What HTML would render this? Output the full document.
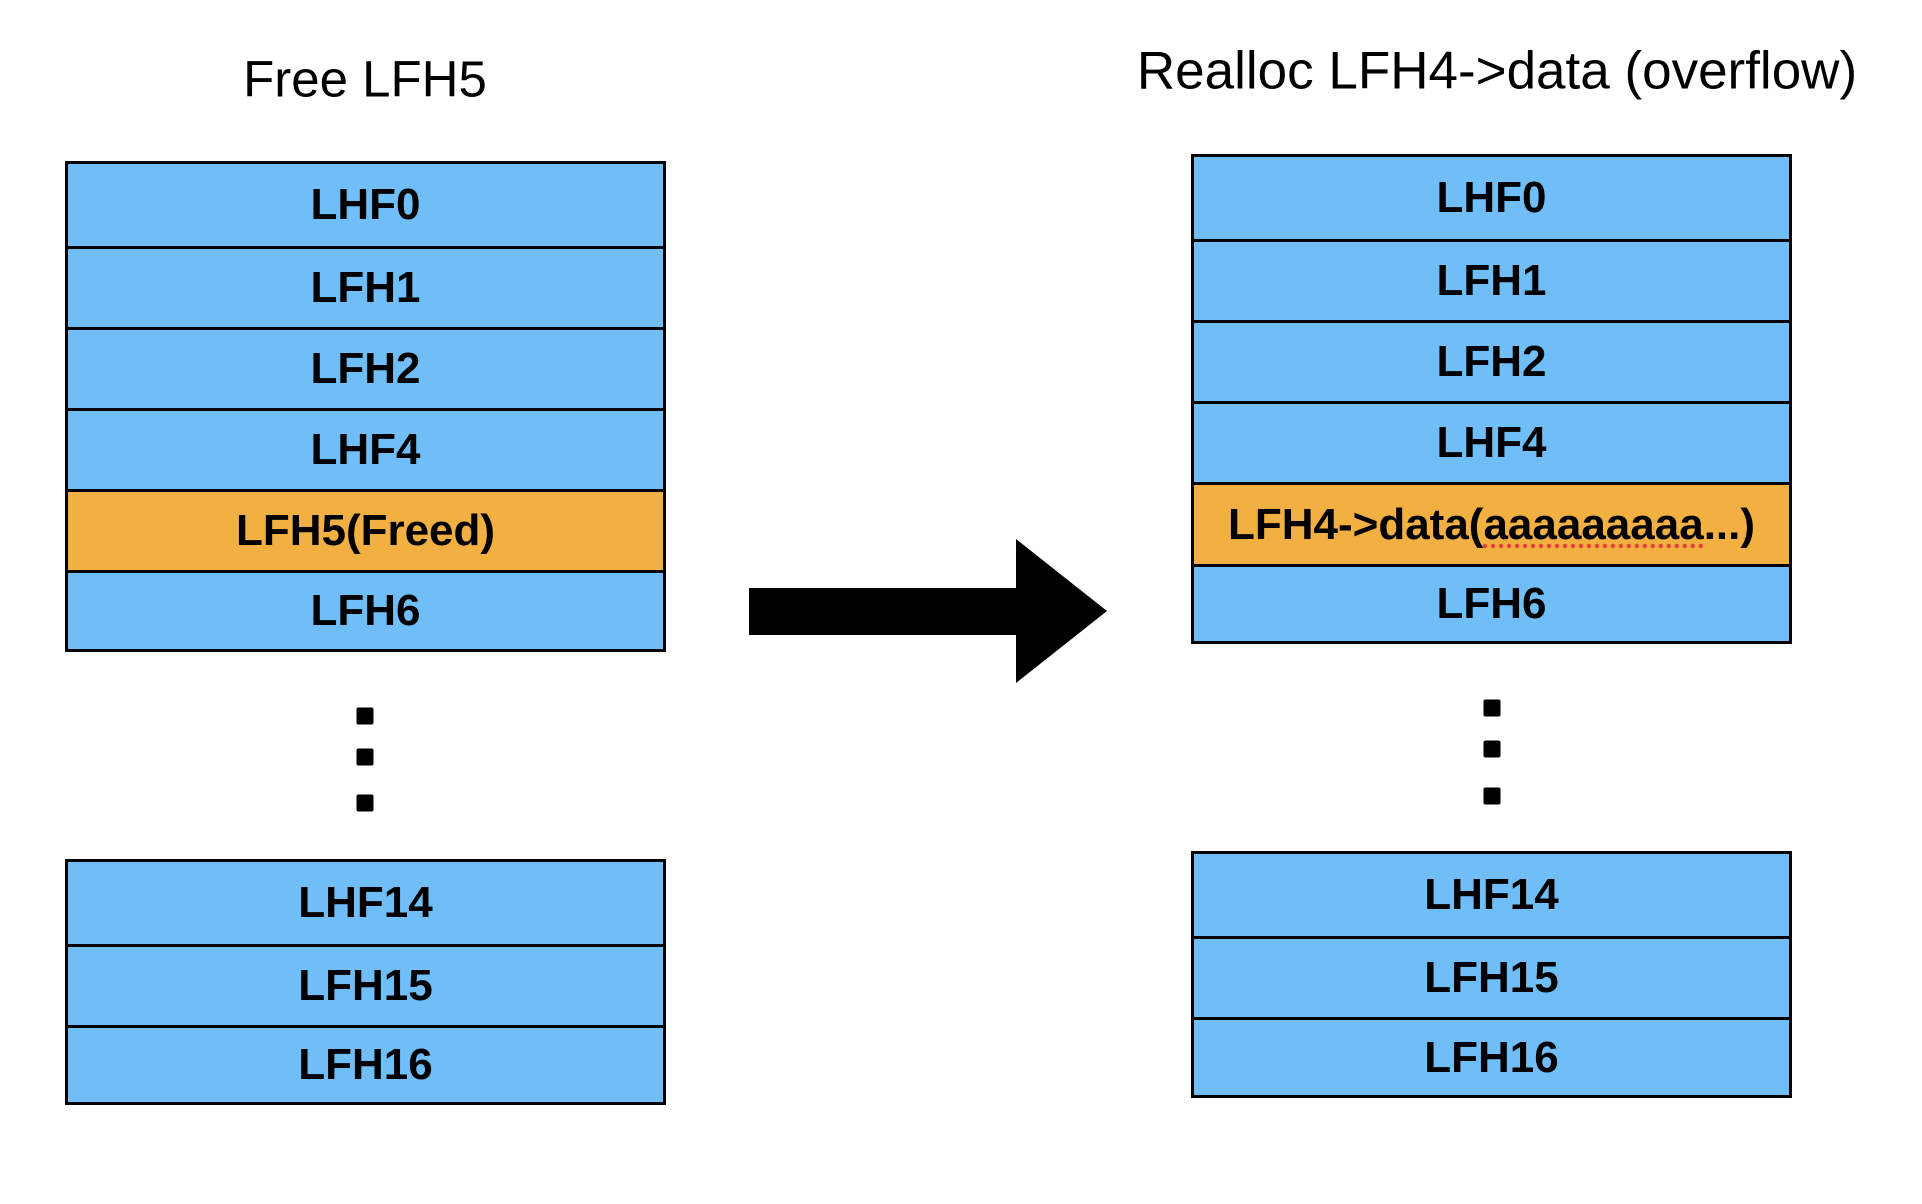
<!DOCTYPE html>
<html><head><style>
body{margin:0;width:1922px;height:1204px;background:#fff;position:relative;overflow:hidden;font-family:"Liberation Sans",Arial,sans-serif}
.t{position:absolute;font-size:51px;color:#000;white-space:nowrap;transform:translate(-50%,-50%)}
.box{position:absolute;border:3px solid #000;box-sizing:border-box;width:601px}
.r{box-sizing:border-box;border-top:3px solid #000;background:#6fbef8;display:flex;align-items:center;justify-content:center;font-weight:bold;font-size:44px;color:#000}
.r:first-child{border-top:none}
.o{background:#f2af42}
.d{position:absolute;width:17px;height:17px;background:#000;border-radius:2px;transform:translate(-50%,-50%)}
</style></head><body>
<div class="t" style="left:365px;top:79px">Free LFH5</div>
<div class="t" style="left:1497px;top:71px;font-size:53px">Realloc LFH4-&gt;data (overflow)</div>

<div class="box" style="left:65px;top:161px;height:491px">
<div class="r" style="height:82px">LHF0</div>
<div class="r" style="height:81px">LFH1</div>
<div class="r" style="height:81px">LFH2</div>
<div class="r" style="height:81px">LHF4</div>
<div class="r o" style="height:81px">LFH5(Freed)</div>
<div class="r" style="height:79px">LFH6</div>
</div>
<div class="box" style="left:65px;top:859px;height:246px">
<div class="r" style="height:82px">LHF14</div>
<div class="r" style="height:81px">LFH15</div>
<div class="r" style="height:77px">LFH16</div>
</div>

<div class="box" style="left:1191px;top:154px;height:490px">
<div class="r" style="height:82px">LHF0</div>
<div class="r" style="height:81px">LFH1</div>
<div class="r" style="height:81px">LFH2</div>
<div class="r" style="height:81px">LHF4</div>
<div class="r o" style="height:82px">LFH4-&gt;data(<span style="text-decoration:underline dotted #e0443a;text-underline-offset:6px">aaaaaaaaa</span>...)</div>
<div class="r" style="height:77px">LFH6</div>
</div>
<div class="box" style="left:1191px;top:851px;height:247px">
<div class="r" style="height:82px">LHF14</div>
<div class="r" style="height:81px">LFH15</div>
<div class="r" style="height:78px">LFH16</div>
</div>

<div class="d" style="left:365px;top:716px"></div>
<div class="d" style="left:365px;top:757px"></div>
<div class="d" style="left:365px;top:803px"></div>
<div class="d" style="left:1492px;top:708px"></div>
<div class="d" style="left:1492px;top:749px"></div>
<div class="d" style="left:1492px;top:796px"></div>

<svg style="position:absolute;left:0;top:0" width="1922" height="1204">
<polygon points="749,588 1016,588 1016,539 1107,611 1016,683 1016,635 749,635" fill="#000"/>
</svg>
</body></html>
